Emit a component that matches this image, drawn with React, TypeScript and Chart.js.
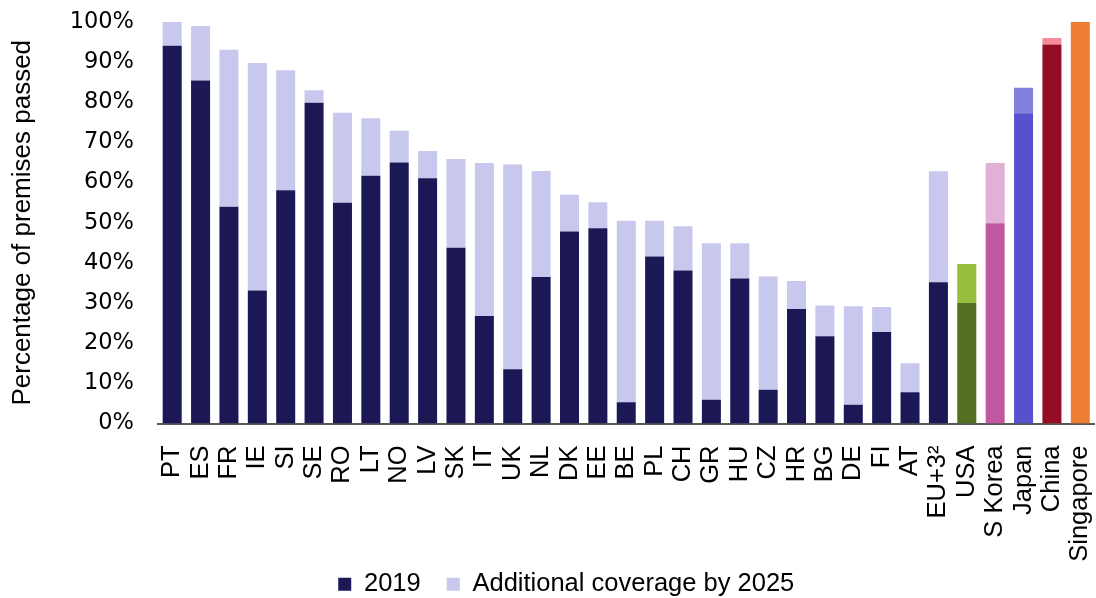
import { useEffect, useRef } from "react";
import { Chart, registerables } from "chart.js";

Chart.register(...registerables);

const categories = [
  "PT", "ES", "FR", "IE", "SI", "SE", "RO", "LT", "NO", "LV", "SK", "IT", "UK", "NL",
  "DK", "EE", "BE", "PL", "CH", "GR", "HU", "CZ", "HR", "BG", "DE", "FI", "AT",
  "EU+3²", "USA", "S Korea", "Japan", "China", "Singapore",
];

const coverage2019 = [
  94.1, 85.4, 54.0, 33.1, 58.1, 79.9, 55.0, 61.7, 65.0, 61.1, 43.8, 26.8, 13.5, 36.5,
  47.8, 48.6, 5.3, 41.6, 38.1, 5.9, 36.1, 8.4, 28.5, 21.7, 4.7, 22.8, 7.8,
  35.2, 30.0, 49.9, 77.3, 94.4, 100,
];

const additional2025 = [
  5.9, 13.6, 39.1, 56.7, 29.9, 3.1, 22.4, 14.3, 7.9, 6.8, 22.1, 38.1, 51.0, 26.4,
  9.2, 6.5, 45.2, 8.9, 11.0, 39.0, 8.8, 28.2, 7.0, 7.7, 24.5, 6.2, 7.2,
  27.6, 9.7, 15.0, 6.3, 1.6, 0,
];

const yTicks = [0, 10, 20, 30, 40, 50, 60, 70, 80, 90, 100];

const NAVY = "#1b1855";
const LAVENDER = "#c8c7ee";
const specialDark: Record<string, string> = {
  USA: "#546e22",
  "S Korea": "#c157a0",
  Japan: "#5752cc",
  China: "#930d25",
  Singapore: "#ee7e32",
};
const specialLight: Record<string, string> = {
  USA: "#97be3c",
  "S Korea": "#e3b0d5",
  Japan: "#8080dd",
  China: "#f48a9b",
  Singapore: "#ee7e32",
};

export default function App() {
  const ref = useRef<HTMLCanvasElement | null>(null);

  useEffect(() => {
    if (!ref.current) return;
    const darkColors = categories.map((c) => specialDark[c] ?? NAVY);
    const lightColors = categories.map((c) => specialLight[c] ?? LAVENDER);

    const layoutTweak = {
      id: "layoutTweak",
      afterLayout(chart: any) {
        const lg = chart.legend;
        if (lg) {
          lg.left += 19;
          lg.right += 19;
          lg.top += 9;
          lg.bottom += 9;
        }
        const xs = chart.scales.x;
        if (xs) xs.bottom += 30;
      },
    };

    const chart = new Chart(ref.current, {
      type: "bar",
      data: {
        labels: categories,
        datasets: [
          {
            label: "2019",
            data: coverage2019,
            backgroundColor: darkColors,
            borderWidth: 0,
            barPercentage: 0.67,
            categoryPercentage: 1,
          },
          {
            label: "Additional coverage by 2025",
            data: additional2025,
            backgroundColor: lightColors,
            borderWidth: 0,
            barPercentage: 0.67,
            categoryPercentage: 1,
          },
        ],
      },
      options: {
        animation: false,
        responsive: true,
        maintainAspectRatio: false,
        layout: { padding: { top: 22, right: 1.5, left: 0, bottom: 0 } },
        plugins: {
          tooltip: { enabled: false },
          legend: {
            position: "bottom",
            labels: {
              boxWidth: 13,
              boxHeight: 13,
              padding: 26,
              color: "#000",
              font: { family: "Liberation Sans", size: 25.5 },
              generateLabels: () => [
                { text: "2019", fillStyle: NAVY, strokeStyle: NAVY, lineWidth: 0, datasetIndex: 0 },
                {
                  text: "Additional coverage by 2025",
                  fillStyle: LAVENDER,
                  strokeStyle: LAVENDER,
                  lineWidth: 0,
                  datasetIndex: 1,
                },
              ],
            },
          },
        },
        scales: {
          x: {
            stacked: true,
            offset: true,
            grid: { display: false },
            border: { display: true, color: "#595959", width: 2 },
            ticks: {
              color: "#000",
              minRotation: 90,
              maxRotation: 90,
              autoSkip: false,
              padding: 14,
              font: { family: "Liberation Sans", size: 25.5 },
            },
            afterFit(scale: any) {
              scale.height = 113;
              scale.paddingLeft = 0;
              scale.paddingRight = 0;
            },
          },
          y: {
            stacked: true,
            min: 0,
            max: 100,
            afterBuildTicks(scale: any) {
              scale.ticks = yTicks.map((v) => ({ value: v }));
            },
            grid: { display: false },
            border: { display: false },
            ticks: {
              color: "#000",
              padding: 16,
              font: { family: "DejaVu Sans", size: 22.5 },
              callback: (v: any) => `${v}%`,
            },
            title: {
              display: true,
              text: "Percentage of premises passed",
              color: "#000",
              padding: { top: 7, bottom: 0 },
              font: { family: "Liberation Sans", size: 26 },
            },
            afterFit(scale: any) {
              scale.width = 158;
              scale.paddingTop = 0;
              scale.paddingBottom = 0;
            },
          },
        },
      },
      plugins: [layoutTweak],
    });
    return () => chart.destroy();
  }, []);

  return (
    <div style={{ position: "absolute", left: 0, top: 0, width: 1096, height: 598 }}>
      <canvas ref={ref} />
    </div>
  );
}
